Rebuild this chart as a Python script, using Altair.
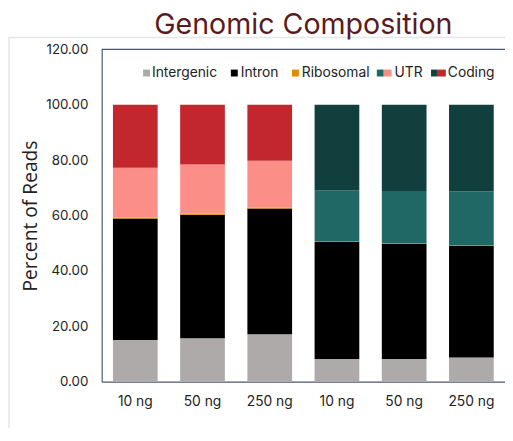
import json
import altair as alt
import pandas as pd

# ---- data ----
labels = ["10 ng", "50 ng", "250 ng", "10 ng", "50 ng", "250 ng"]
groups = ["A", "A", "A", "B", "B", "B"]
intergenic = [15.1, 15.7, 17.1, 8.2, 8.2, 8.7]
intron = [43.8, 44.6, 45.4, 42.4, 41.5, 40.5]
ribosomal = [0.4, 0.4, 0.4, 0.2, 0.2, 0.2]
utr = [18.0, 17.7, 16.9, 18.3, 19.0, 19.3]
coding = [22.7, 21.6, 20.2, 30.9, 31.1, 31.3]

categories = ["Intergenic", "Intron", "Ribosomal", "UTR", "Coding"]
series = [intergenic, intron, ribosomal, utr, coding]

rows = []
for i, lab in enumerate(labels):
    for k, (cat, vals) in enumerate(zip(categories, series)):
        key = cat if cat in ("Intergenic", "Intron", "Ribosomal") else f"{cat}_{groups[i]}"
        rows.append({"id": str(i), "label": lab, "category": cat,
                     "ckey": key, "value": vals[i], "ord": k})
df = pd.DataFrame(rows)

color_domain = ["Intergenic", "Intron", "Ribosomal", "UTR_A", "UTR_B", "Coding_A", "Coding_B"]
color_range = ["#aeaaa9", "#000000", "#e08a00", "#fb8f87", "#1f6866", "#c1272d", "#103f3e"]

W, H = 409, 337
axis_col = "#4a5670"
font = "Inter"

label_expr = json.dumps(labels) + "[toNumber(datum.value)]"

bars = alt.Chart(df).mark_bar().encode(
    x=alt.X("id:N", sort=[str(i) for i in range(len(labels))],
            scale=alt.Scale(paddingInner=0.335, paddingOuter=0.1675),
            axis=alt.Axis(title=None, labelExpr=label_expr, labelAngle=0, tickSize=0,
                          labelPadding=13, labelFontSize=14, labelColor="#222",
                          domainColor=axis_col, domainWidth=1.2, labelFont=font)),
    y=alt.Y("value:Q", stack="zero",
            scale=alt.Scale(domain=[0, 120], nice=False),
            axis=alt.Axis(title="Percent of Reads", values=[0, 20, 40, 60, 80, 100, 120],
                          format=".2f", tickSize=0, labelPadding=14, labelFontSize=13.5,
                          labelColor="#222", domainColor=axis_col, domainWidth=1.2,
                          grid=False, titleFontSize=19.5, titleFontWeight="normal",
                          titleColor="#222", titlePadding=5, labelFont=font,
                          titleFont="Open Sans")),
    color=alt.Color("ckey:N", scale=alt.Scale(domain=color_domain, range=color_range),
                    legend=None),
    order=alt.Order("ord:Q"),
)

one = pd.DataFrame({"a": [0]})

frame = alt.Chart(one).mark_rect(fill=None, stroke="#e6e6e6", strokeWidth=1.5).encode(
    x=alt.value(-94), x2=alt.value(W + 20), y=alt.value(-12), y2=alt.value(H + 60))

top_rule = alt.Chart(one).mark_rule(color=axis_col, strokeWidth=1.2).encode(
    x=alt.value(0), x2=alt.value(W + 5), y=alt.value(0))

# manual legend (swatch segments and labels), positions in plot pixels
legend_swatches = [
    (42, 49, "#aeaaa9"),
    (131, 138, "#000000"),
    (193, 200, "#e08a00"),
    (279, 286, "#1f6866"), (286, 294, "#fb8f87"),
    (334, 340, "#103f3e"), (340, 349, "#c1272d"),
]
legend_texts = [(51, "Intergenic"), (141, "Intron"), (203, "Ribosomal"),
                (297, "UTR"), (351, "Coding")]
ly = 24
layers = [frame, bars, top_rule]
for x0, x1, c in legend_swatches:
    layers.append(alt.Chart(one).mark_rect(color=c).encode(
        x=alt.value(x0), x2=alt.value(x1), y=alt.value(ly - 3.5), y2=alt.value(ly + 3.5)))
for x0, t in legend_texts:
    layers.append(alt.Chart(one).mark_text(align="left", baseline="middle", fontSize=14,
                                           font=font, color="#222").encode(
        x=alt.value(x0), y=alt.value(ly), text=alt.value(t)))

chart = alt.layer(*layers).properties(
    width=W, height=H,
    title=alt.TitleParams("Genomic Composition", fontSize=29, color="#5a1a1e", font=font,
                          fontWeight="normal", offset=-3, anchor="middle"),
    autosize=alt.AutoSizeParams(type="none"),
    padding={"left": 95, "top": 39, "right": 0, "bottom": 44},
).configure_view(strokeWidth=0)

chart.save("out.html", embed_options={"renderer": "svg", "actions": False})
